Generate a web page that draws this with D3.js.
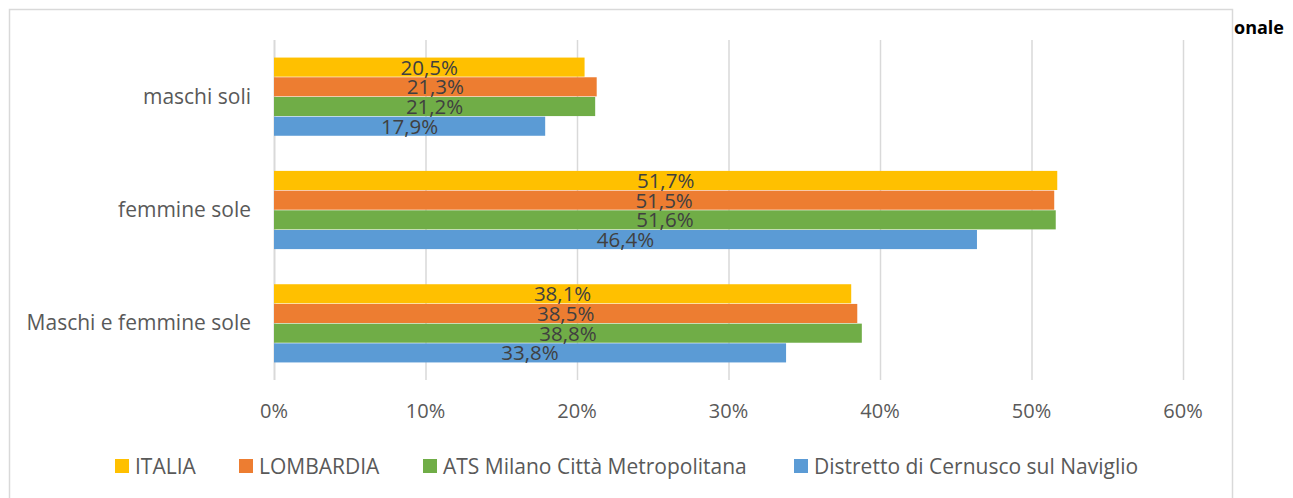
<!DOCTYPE html>
<html>
<head>
<meta charset="utf-8">
<script src="https://cdn.jsdelivr.net/npm/d3@7"></script>
<style>
  body { margin: 0; background: #fff; }
  svg text { font-family: "Open Sans", sans-serif; }
</style>
</head>
<body>
<svg id="chart" width="1293" height="498"></svg>
<script>
// data
var categories = ["maschi soli", "femmine sole", "Maschi e femmine sole"];
var seriesNames = ["ITALIA", "LOMBARDIA", "ATS Milano Città Metropolitana", "Distretto di Cernusco sul Naviglio"];
var seriesColors = ["#ffc000", "#ed7d31", "#70ad47", "#5b9bd5"];
var italia = [20.5, 51.7, 38.1];
var lombardia = [21.3, 51.5, 38.5];
var ats = [21.2, 51.6, 38.8];
var distretto = [17.9, 46.4, 33.8];
var ticks = [0, 10, 20, 30, 40, 50, 60];

var values = [italia, lombardia, ats, distretto];

var svg = d3.select("#chart");

// outer frame
svg.append("rect")
    .attr("x", 9.5).attr("y", 9.5)
    .attr("width", 1223).attr("height", 520)
    .attr("fill", "none")
    .attr("stroke", "#d9d9d9")
    .attr("stroke-width", 1.5);

// clipped title piece
svg.append("text")
    .attr("x", 1234).attr("y", 34)
    .attr("font-size", 18)
    .attr("font-weight", "bold")
    .attr("fill", "#000")
    .text("onale");

var x = d3.scaleLinear().domain([0, 60]).range([274, 1183]);
var y = d3.scaleBand().domain(categories).range([40, 380])
    .paddingInner(0.31).paddingOuter(0.155);
var ySub = d3.scaleBand().domain(d3.range(seriesNames.length))
    .range([0, y.bandwidth()]).paddingInner(0.03);

// gridlines
svg.append("g")
    .selectAll("line")
    .data(ticks)
    .enter().append("line")
    .attr("x1", function(d) { return x(d) + 0.5; })
    .attr("x2", function(d) { return x(d) + 0.5; })
    .attr("y1", 40).attr("y2", 380)
    .attr("stroke", "#d9d9d9")
    .attr("stroke-width", function(d) { return d === 0 ? 2 : 1.5; });

// bars
var groups = svg.append("g")
    .selectAll("g")
    .data(categories)
    .enter().append("g")
    .attr("transform", function(d) { return "translate(0," + y(d) + ")"; });

groups.selectAll("rect")
    .data(function(d, ci) { return values.map(function(s, si) { return {s: si, v: s[ci]}; }); })
    .enter().append("rect")
    .attr("x", x(0))
    .attr("y", function(d) { return ySub(d.s); })
    .attr("height", ySub.bandwidth())
    .attr("width", function(d) { return x(d.v) - x(0); })
    .attr("fill", function(d) { return seriesColors[d.s]; });

groups.selectAll("text")
    .data(function(d, ci) { return values.map(function(s, si) { return {s: si, v: s[ci]}; }); })
    .enter().append("text")
    .attr("x", function(d) { return (x(d.v) + x(0)) / 2; })
    .attr("y", function(d) { return ySub(d.s) + ySub.bandwidth() / 2 + 7.5; })
    .attr("text-anchor", "middle")
    .attr("font-size", 20.5)
    .attr("fill", "#404040")
    .text(function(d) { return d3.format(".1f")(d.v).replace(".", ",") + "%"; });

// category labels
svg.append("g")
    .selectAll("text")
    .data(categories)
    .enter().append("text")
    .attr("x", 251)
    .attr("y", function(d) { return y(d) + y.bandwidth() / 2 + 7; })
    .attr("text-anchor", "end")
    .attr("font-size", 21)
    .attr("fill", "#595959")
    .text(function(d) { return d; });

// x tick labels
svg.append("g")
    .selectAll("text")
    .data(ticks)
    .enter().append("text")
    .attr("x", function(d) { return x(d); })
    .attr("y", 418)
    .attr("text-anchor", "middle")
    .attr("font-size", 20)
    .attr("fill", "#595959")
    .text(function(d) { return d + "%"; });

// legend
var legendX = [115, 239, 423, 794];
var legend = svg.append("g")
    .selectAll("g")
    .data(seriesNames)
    .enter().append("g")
    .attr("transform", function(d, i) { return "translate(" + legendX[i] + ",459)"; });

legend.append("rect")
    .attr("width", 14).attr("height", 14)
    .attr("fill", function(d, i) { return seriesColors[i]; });

legend.append("text")
    .attr("x", 20).attr("y", 14.5)
    .attr("font-size", 21)
    .attr("fill", "#595959")
    .text(function(d) { return d; });
</script>
</body>
</html>
